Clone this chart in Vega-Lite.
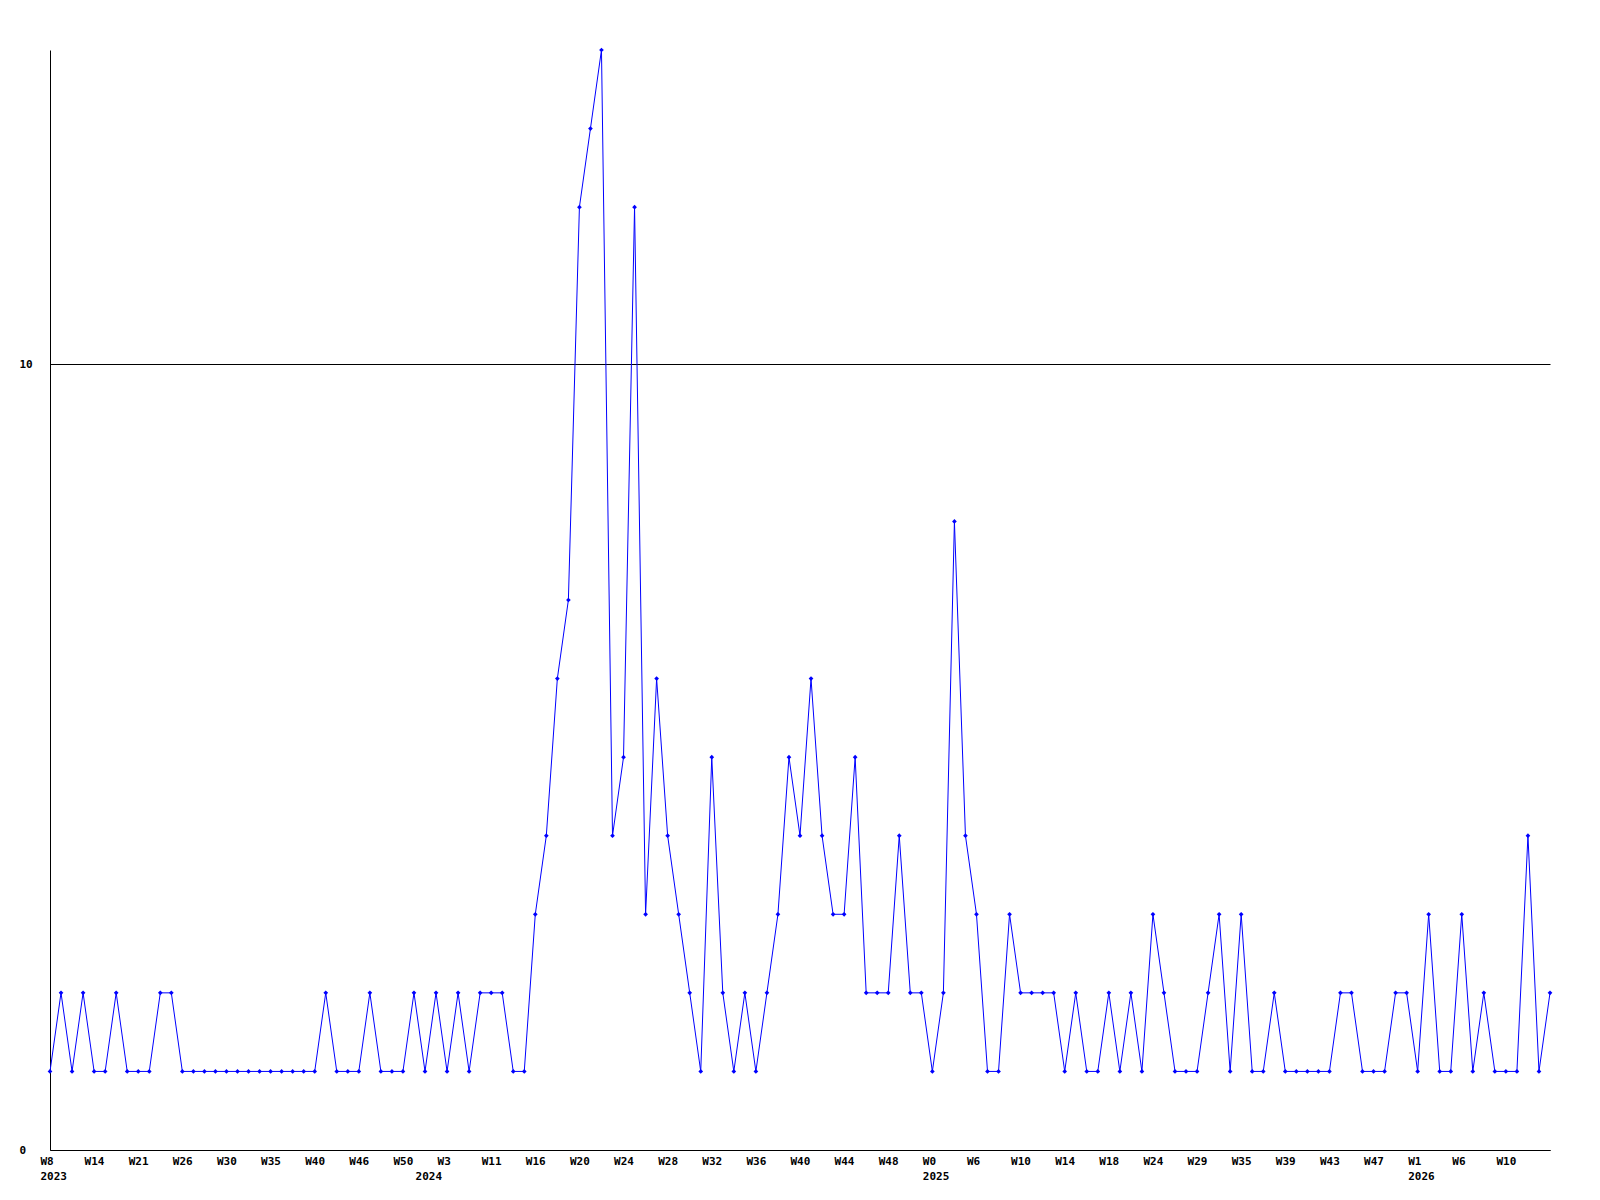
{
  "$schema": "https://vega.github.io/schema/vega-lite/v6.json",
  "width": 1500,
  "height": 1100,
  "autosize": {"type": "none"},
  "padding": {"left": 50, "top": 50, "right": 50, "bottom": 50},
  "background": "white",
  "config": {
    "view": {"stroke": null},
    "axis": {"labelFont": "DejaVu Sans Mono", "labelFontWeight": "bold", "labelFontSize": 11, "labelColor": "black", "domainColor": "black", "domainWidth": 1, "ticks": false, "title": null}
  },
  "data": {"values": [
    {"i":0,"v":1},{"i":1,"v":2},{"i":2,"v":1},{"i":3,"v":2},{"i":4,"v":1},{"i":5,"v":1},{"i":6,"v":2},{"i":7,"v":1},{"i":8,"v":1},{"i":9,"v":1},
    {"i":10,"v":2},{"i":11,"v":2},{"i":12,"v":1},{"i":13,"v":1},{"i":14,"v":1},{"i":15,"v":1},{"i":16,"v":1},{"i":17,"v":1},{"i":18,"v":1},{"i":19,"v":1},
    {"i":20,"v":1},{"i":21,"v":1},{"i":22,"v":1},{"i":23,"v":1},{"i":24,"v":1},{"i":25,"v":2},{"i":26,"v":1},{"i":27,"v":1},{"i":28,"v":1},{"i":29,"v":2},
    {"i":30,"v":1},{"i":31,"v":1},{"i":32,"v":1},{"i":33,"v":2},{"i":34,"v":1},{"i":35,"v":2},{"i":36,"v":1},{"i":37,"v":2},{"i":38,"v":1},{"i":39,"v":2},
    {"i":40,"v":2},{"i":41,"v":2},{"i":42,"v":1},{"i":43,"v":1},{"i":44,"v":3},{"i":45,"v":4},{"i":46,"v":6},{"i":47,"v":7},{"i":48,"v":12},{"i":49,"v":13},
    {"i":50,"v":14},{"i":51,"v":4},{"i":52,"v":5},{"i":53,"v":12},{"i":54,"v":3},{"i":55,"v":6},{"i":56,"v":4},{"i":57,"v":3},{"i":58,"v":2},{"i":59,"v":1},
    {"i":60,"v":5},{"i":61,"v":2},{"i":62,"v":1},{"i":63,"v":2},{"i":64,"v":1},{"i":65,"v":2},{"i":66,"v":3},{"i":67,"v":5},{"i":68,"v":4},{"i":69,"v":6},
    {"i":70,"v":4},{"i":71,"v":3},{"i":72,"v":3},{"i":73,"v":5},{"i":74,"v":2},{"i":75,"v":2},{"i":76,"v":2},{"i":77,"v":4},{"i":78,"v":2},{"i":79,"v":2},
    {"i":80,"v":1},{"i":81,"v":2},{"i":82,"v":8},{"i":83,"v":4},{"i":84,"v":3},{"i":85,"v":1},{"i":86,"v":1},{"i":87,"v":3},{"i":88,"v":2},{"i":89,"v":2},
    {"i":90,"v":2},{"i":91,"v":2},{"i":92,"v":1},{"i":93,"v":2},{"i":94,"v":1},{"i":95,"v":1},{"i":96,"v":2},{"i":97,"v":1},{"i":98,"v":2},{"i":99,"v":1},
    {"i":100,"v":3},{"i":101,"v":2},{"i":102,"v":1},{"i":103,"v":1},{"i":104,"v":1},{"i":105,"v":2},{"i":106,"v":3},{"i":107,"v":1},{"i":108,"v":3},{"i":109,"v":1},
    {"i":110,"v":1},{"i":111,"v":2},{"i":112,"v":1},{"i":113,"v":1},{"i":114,"v":1},{"i":115,"v":1},{"i":116,"v":1},{"i":117,"v":2},{"i":118,"v":2},{"i":119,"v":1},
    {"i":120,"v":1},{"i":121,"v":1},{"i":122,"v":2},{"i":123,"v":2},{"i":124,"v":1},{"i":125,"v":3},{"i":126,"v":1},{"i":127,"v":1},{"i":128,"v":3},{"i":129,"v":1},
    {"i":130,"v":2},{"i":131,"v":1},{"i":132,"v":1},{"i":133,"v":1},{"i":134,"v":4},{"i":135,"v":1},{"i":136,"v":2}
  ]},
  "encoding": {
    "y": {"field": "v", "type": "quantitative", "scale": {"domain": [0, 14], "nice": false},
      "axis": {"values": [0, 10], "grid": true, "gridColor": "black", "gridOpacity": 1, "gridWidth": 1, "labelAlign": "left", "labelPadding": 31, "labelBaseline": "middle", "labelFlush": false}}
  },
  "layer": [
    {"mark": {"type": "line", "color": "#0000ff", "strokeWidth": 1},
     "encoding": {"x": {"field": "i", "type": "quantitative", "scale": {"domain": [0, 136], "nice": false, "zero": false},
      "axis": {"orient": "bottom", "values": [0,4,8,12,16,20,24,28,32,36,40,44,48,52,56,60,64,68,72,76,80,84,88,92,96,100,104,108,112,116,120,124,128,132],
        "grid": false, "labelAlign": "left", "labelBaseline": "top", "labelOffset": -10, "labelPadding": 5, "labelOverlap": false, "labelFlush": false,
        "labelExpr": "['W8','W14','W21','W26','W30','W35','W40','W46','W50','W3','W11','W16','W20','W24','W28','W32','W36','W40','W44','W48','W0','W6','W10','W14','W18','W24','W29','W35','W39','W43','W47','W1','W6','W10'][datum.value/4]"}}}},
    {"mark": {"type": "point", "shape": "diamond", "filled": true, "color": "#0000ff", "size": 22, "opacity": 1},
     "encoding": {"x": {"field": "i", "type": "quantitative", "axis": null}}},
    {"mark": {"type": "point", "opacity": 0},
     "encoding": {"x": {"field": "i", "type": "quantitative",
      "axis": {"orient": "bottom", "values": [0, 36, 80, 124], "domain": false, "grid": false, "labelAlign": "left", "labelBaseline": "top", "labelPadding": 20, "labelOverlap": false, "labelFlush": false,
        "labelOffset": {"expr": "datum.value == 36 ? -32 : -10"},
        "labelExpr": "datum.value == 0 ? '2023' : datum.value == 36 ? '2024' : datum.value == 80 ? '2025' : '2026'"}}}}
  ],
  "resolve": {"axis": {"x": "independent"}}
}
